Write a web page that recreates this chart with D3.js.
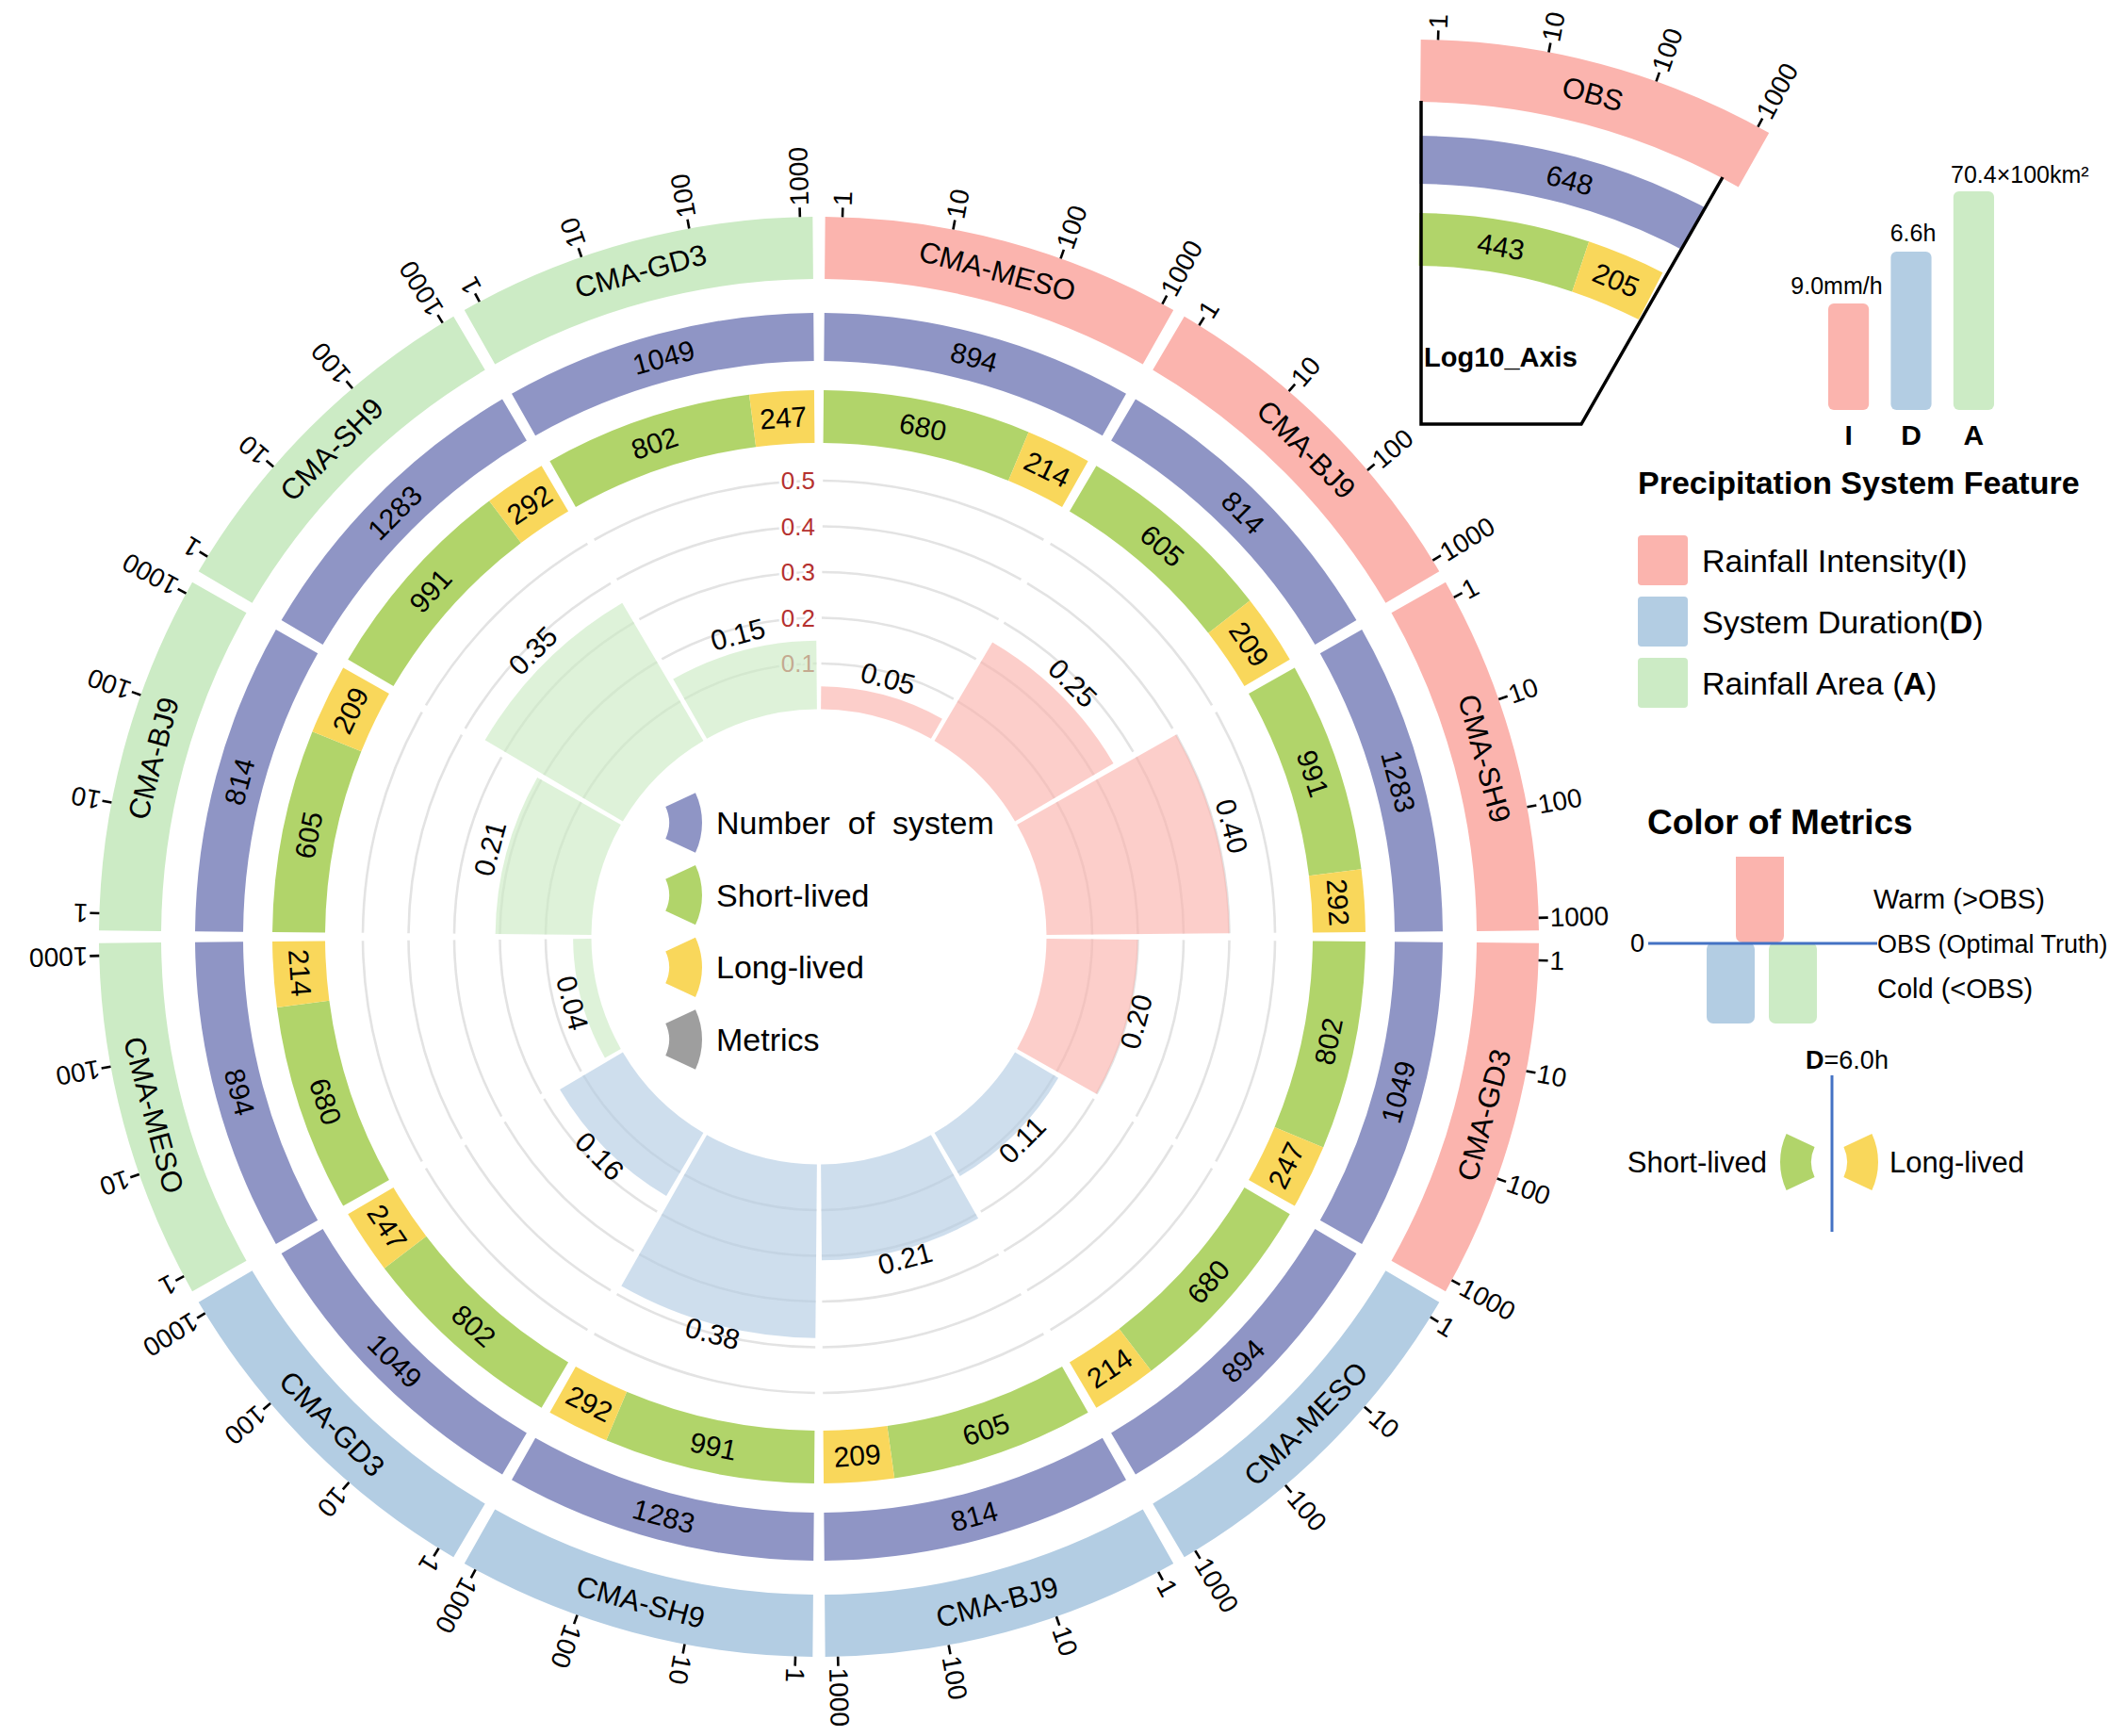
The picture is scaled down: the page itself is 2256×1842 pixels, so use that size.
<!DOCTYPE html>
<html><head><meta charset="utf-8">
<script src="https://cdn.jsdelivr.net/npm/d3@7"></script>
<style>body{margin:0;background:#fff}svg{display:block}text{font-family:"Liberation Sans",Arial,sans-serif;fill:#000}</style>
</head><body><svg id="c" width="2256" height="1842"></svg>
<script>
// ---------------- data ----------------
const models = ["CMA-MESO","CMA-BJ9","CMA-SH9","CMA-GD3"];
const features = ["I","D","A"];
const featureLabels = ["Rainfall Intensity(","System Duration(","Rainfall Area ("];
const systemCounts = [894, 814, 1283, 1049];
const shortLived = [680, 605, 991, 802];
const longLived = [214, 209, 292, 247];
const metricI = [0.05, 0.25, 0.40, 0.20];
const metricD = [0.11, 0.21, 0.38, 0.16];
const metricA = [0.04, 0.21, 0.35, 0.15];
const gridTicks = [0.1, 0.2, 0.3, 0.4, 0.5];
const logTicks = [1, 10, 100, 1000];
const obsName = "OBS";
const obsCount = 648, obsShort = 443, obsLong = 205;
const obsFeatureText = ["9.0mm/h", "6.6h", "70.4×100km²"];
const durationThreshold = "=6.0h";
const legendItems = ["Number  of  system","Short-lived","Long-lived","Metrics"];

// ---------------- setup ----------------
const svg = d3.select("#c");
const deg = Math.PI/180;
const featureColors = ["#FBB4AE","#B3CDE3","#CCEBC5"];
const numColor = "#8F95C5", shortColor = "#B1D46A", longColor = "#F9D75B", metricGray = "#9E9E9E";
const lineBlue = "#4472C4";
const RO = [698, 764], RN = [611, 662], RL = [524, 580];
const rm = d3.scaleLinear().domain([0, 0.5]).range([241.5, 484]);
const nSect = 12, gap = 1*deg;
const sectorAngle = d3.scaleLinear().domain([0, nSect]).range([0, 2*Math.PI]);
const metrics = [metricI, metricD, metricA];
const sectors = [];
features.forEach((f, fi) => models.forEach((m, mi) => {
  const i = fi*4 + mi;
  sectors.push({fi, mi, model: m, metric: metrics[fi][mi], n: systemCounts[mi], s: shortLived[mi], l: longLived[mi],
    a0: sectorAngle(i) + gap/2, a1: sectorAngle(i+1) - gap/2});
}));

function pt(a, r){ return [r*Math.sin(a), -r*Math.cos(a)]; }
function norm(d){ return ((d % 360) + 360) % 360; }
function isBottom(a){ const d = norm(a/deg); return d > 90 && d < 270; }
function tangentText(g, a, r, txt, size){
  const [x, y] = pt(a, r);
  const d = norm(a/deg);
  const rot = isBottom(a) ? d - 180 : d;
  return g.append("text").attr("transform", `translate(${x},${y}) rotate(${rot})`)
    .attr("text-anchor","middle").attr("dominant-baseline","central").attr("font-size", size).text(txt);
}
const arc = d3.arc();
function band(g, r, a0, a1, color){
  g.append("path").attr("d", arc({innerRadius:r[0], outerRadius:r[1], startAngle:a0, endAngle:a1})).attr("fill", color);
}
function logAxis(g, a0, a1){
  const lx = d3.scaleLog().domain([0.7, 1300]).range([a0, a1]);
  logTicks.forEach(t => {
    const a = lx(t);
    const [x1,y1] = pt(a, RO[1]), [x2,y2] = pt(a, RO[1]+10);
    g.append("line").attr("x1",x1).attr("y1",y1).attr("x2",x2).attr("y2",y2).attr("stroke","#000").attr("stroke-width",2.6);
    const [tx,ty] = pt(a, RO[1]+12);
    g.append("text").attr("transform",`translate(${tx},${ty}) rotate(${a/deg-90})`)
      .attr("dominant-baseline","central").attr("font-size",28).text(t);
  });
}
function lifeRing(g, a0, a1, s, l){
  const la = d3.scaleLinear().domain([0, s + l]).range([a0, a1]);
  band(g, RL, la(0), la(s), shortColor);
  band(g, RL, la(s), la(s+l), longColor);
  const rc = (RL[0]+RL[1])/2;
  tangentText(g, (la(0)+la(s))/2, rc, s, 30);
  tangentText(g, (la(s)+la(s+l))/2, rc, l, 30);
}

// ---------------- main circle ----------------
const G = svg.append("g").attr("transform","translate(869,994)");
const gGrid = G.append("g"), gGridLab = G.append("g"), gBars = G.append("g"), gRings = G.append("g");

sectors.forEach(sc => {
  gridTicks.forEach(v => {
    const p = d3.path(); p.arc(0, 0, rm(v), sc.a0 - Math.PI/2, sc.a1 - Math.PI/2);
    gGrid.append("path").attr("d", p.toString()).attr("fill","none").attr("stroke","#E3E3E3").attr("stroke-width",2.6);
  });
  gBars.append("path").attr("d", arc({innerRadius: rm(0), outerRadius: rm(sc.metric), startAngle: sc.a0, endAngle: sc.a1}))
    .attr("fill", featureColors[sc.fi]).attr("fill-opacity", 0.65);
  const am = (sc.a0 + sc.a1)/2;
  tangentText(gBars, am, rm(sc.metric) + (isBottom(am) ? 10 : 18), sc.metric.toFixed(2), 30);
  band(gRings, RO, sc.a0, sc.a1, featureColors[sc.fi]);
  tangentText(gRings, am, (RO[0]+RO[1])/2, sc.model, 31);
  logAxis(gRings, sc.a0, sc.a1);
  band(gRings, RN, sc.a0, sc.a1, numColor);
  tangentText(gRings, am, (RN[0]+RN[1])/2, sc.n, 30);
  lifeRing(gRings, sc.a0, sc.a1, sc.s, sc.l);
});
gridTicks.forEach(v => {
  gGridLab.append("text").attr("x", -4).attr("y", -rm(v)).attr("text-anchor","end").attr("dominant-baseline","central")
    .attr("font-size", 26).style("fill", "#B5312F").attr("stroke","#fff").attr("stroke-width",6).attr("paint-order","stroke")
    .text(v.toFixed(1));
});

// center legend
const legColors = [numColor, shortColor, longColor, metricGray];
const legY = d3.scalePoint().domain(legendItems).range([873, 1103]);
legendItems.forEach((t, i) => {
  const y = legY(t);
  svg.append("path").attr("transform", `translate(${745-75},${y})`)
    .attr("d", arc({innerRadius:40, outerRadius:75, startAngle:65*deg, endAngle:115*deg})).attr("fill", legColors[i]);
  svg.append("text").attr("x", 760).attr("y", y).attr("dominant-baseline","central").attr("font-size",34)
    .style("white-space","pre").text(t);
});

// ---------------- inset (Log10 axis) ----------------
const IG = svg.append("g").attr("transform","translate(1501,806)");
const s0 = sectors[0];
band(IG, RO, s0.a0, s0.a1, featureColors[0]);
tangentText(IG, (s0.a0+s0.a1)/2, (RO[0]+RO[1])/2, obsName, 31);
logAxis(IG, s0.a0, s0.a1);
const clip = svg.append("defs").append("clipPath").attr("id","insetClip");
clip.append("polygon").attr("points", "-100,-1000 546,-1000 177,-356 -100,-356");
const IC = IG.append("g").attr("clip-path","url(#insetClip)");
band(IC, RN, s0.a0, s0.a1, numColor);
tangentText(IC, (s0.a0+s0.a1)/2, (RN[0]+RN[1])/2, obsCount, 30);
lifeRing(IC, s0.a0, 27*deg, obsShort, obsLong);
IG.append("path").attr("d","M7,-699 L7,-356 L177,-356 L327,-618").attr("fill","none").attr("stroke","#000").attr("stroke-width",3.5);
svg.append("text").attr("x",1511).attr("y",389).attr("font-size",29).attr("font-weight","bold").text("Log10_Axis");

// ---------------- IDA bars ----------------
const idaX = d3.scaleBand().domain(features).range([1940, 2116]).paddingInner(0.35);
const idaTop = [322, 267, 203];
features.forEach((f, i) => {
  svg.append("rect").attr("x", idaX(f)).attr("y", idaTop[i]).attr("width", idaX.bandwidth()).attr("height", 435 - idaTop[i])
    .attr("rx", 6).attr("fill", featureColors[i]);
  svg.append("text").attr("x", idaX(f) + idaX.bandwidth()/2).attr("y", 472).attr("text-anchor","middle")
    .attr("font-size", 30).attr("font-weight","bold").text(f);
});
svg.append("text").attr("x", 1949).attr("y", 312).attr("text-anchor","middle").attr("font-size",25).text(obsFeatureText[0]);
svg.append("text").attr("x", 2030).attr("y", 256).attr("text-anchor","middle").attr("font-size",25).text(obsFeatureText[1]);
svg.append("text").attr("x", 2070).attr("y", 194).attr("font-size",25).text(obsFeatureText[2]);

// ---------------- feature legend ----------------
svg.append("text").attr("x",1738).attr("y",524).attr("font-size",34).attr("font-weight","bold").text("Precipitation System Feature");
features.forEach((f, i) => {
  const y = 568 + i*65;
  svg.append("rect").attr("x",1738).attr("y",y).attr("width",53).attr("height",53).attr("rx",4).attr("fill",featureColors[i]);
  const t = svg.append("text").attr("x",1806).attr("y",y+39).attr("font-size",34);
  t.append("tspan").text(featureLabels[i]);
  t.append("tspan").attr("font-weight","bold").text(f);
  t.append("tspan").text(")");
});

// ---------------- color of metrics ----------------
svg.append("text").attr("x",1748).attr("y",885).attr("font-size",37).attr("font-weight","bold").text("Color of Metrics");
svg.append("rect").attr("x",1842).attr("y",909).attr("width",51).attr("height",91).attr("rx",7).attr("fill",featureColors[0]);
svg.append("rect").attr("x",1842).attr("y",909).attr("width",51).attr("height",20).attr("fill",featureColors[0]);
svg.append("rect").attr("x",1811).attr("y",1000).attr("width",51).attr("height",86).attr("rx",7).attr("fill",featureColors[1]);
svg.append("rect").attr("x",1877).attr("y",1000).attr("width",51).attr("height",86).attr("rx",7).attr("fill",featureColors[2]);
svg.append("line").attr("x1",1749).attr("x2",1992).attr("y1",1001).attr("y2",1001).attr("stroke",lineBlue).attr("stroke-width",3);
svg.append("text").attr("x",1745).attr("y",1001).attr("text-anchor","end").attr("dominant-baseline","central").attr("font-size",27).text("0");
svg.append("text").attr("x",1988).attr("y",964).attr("font-size",29).text("Warm (>OBS)");
svg.append("text").attr("x",1992).attr("y",1011).attr("font-size",27).text("OBS (Optimal Truth)");
svg.append("text").attr("x",1992).attr("y",1059).attr("font-size",29).text("Cold (<OBS)");

// ---------------- duration legend ----------------
svg.append("line").attr("x1",1944).attr("x2",1944).attr("y1",1141).attr("y2",1307).attr("stroke",lineBlue).attr("stroke-width",3);
const dt = svg.append("text").attr("x",1960).attr("y",1134).attr("text-anchor","middle").attr("font-size",27);
dt.append("tspan").attr("font-weight","bold").text("D");
dt.append("tspan").text(durationThreshold);
svg.append("path").attr("transform","translate(1960,1233)")
  .attr("d", arc({innerRadius:38, outerRadius:71, startAngle:245*deg, endAngle:295*deg})).attr("fill",shortColor);
svg.append("path").attr("transform","translate(1922,1233)")
  .attr("d", arc({innerRadius:38, outerRadius:71, startAngle:65*deg, endAngle:115*deg})).attr("fill",longColor);
svg.append("text").attr("x",1875).attr("y",1233).attr("text-anchor","end").attr("dominant-baseline","central").attr("font-size",31).text("Short-lived");
svg.append("text").attr("x",2005).attr("y",1233).attr("dominant-baseline","central").attr("font-size",31).text("Long-lived");
</script></body></html>
